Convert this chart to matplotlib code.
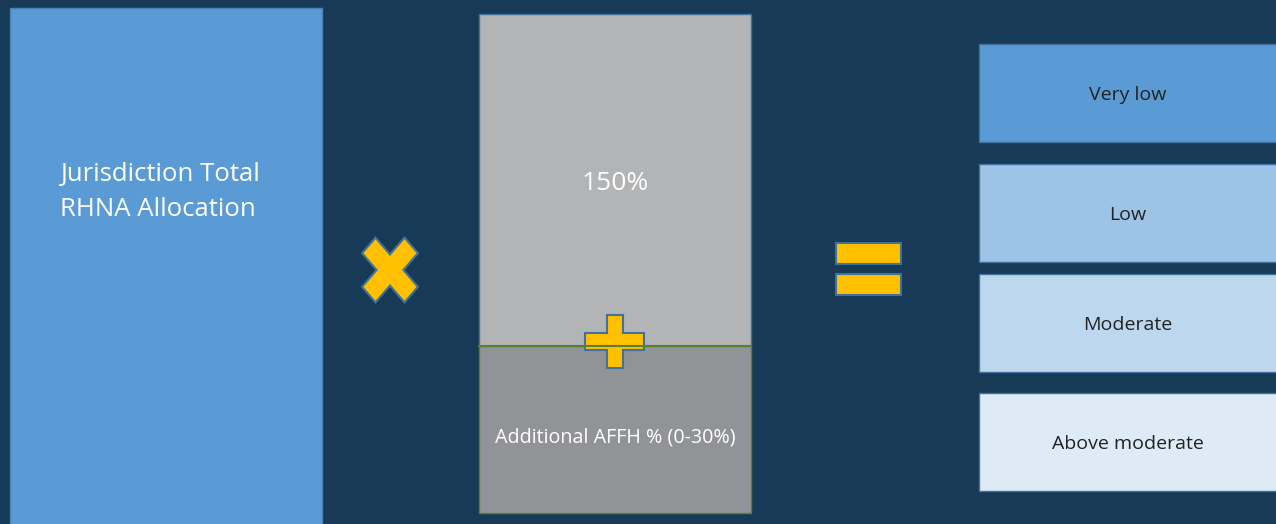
import numpy as np
import matplotlib.pyplot as plt
from matplotlib.patches import Rectangle, Polygon

# content of the diagram
left_label = "Jurisdiction Total\nRHNA Allocation"
mid_top_label = "150%"
mid_bottom_label = "Additional AFFH % (0-30%)"
income_labels = ["Very low", "Low", "Moderate", "Above moderate"]
income_colors = ["#5B9BD5", "#9DC3E6", "#BDD7EE", "#DEEBF7"]
income_tops = [44, 164, 274, 393]

bg = "#173B56"
gold = "#FFC000"
outline = "#41719C"

fig = plt.figure(figsize=(12.76, 5.24), dpi=100)
fig.patch.set_facecolor(bg)
ax = fig.add_axes([0, 0, 1, 1])
ax.set_xlim(0, 1276)
ax.set_ylim(524, 0)
ax.set_facecolor(bg)
ax.axis("off")

# left box
ax.add_patch(Rectangle((10, 8), 312, 530, facecolor="#5B9BD5", edgecolor="#4A80B4", lw=1))
ax.text(60, 192, left_label, color="white", fontsize=18.5, ha="left", va="center",
        family="Open Sans", linespacing=1.55)

# middle stacked box
ax.add_patch(Rectangle((479, 14), 272, 332, facecolor="#B3B4B6", edgecolor="#41719C", lw=1))
ax.add_patch(Rectangle((479, 346), 272, 167, facecolor="#929396", edgecolor="#548235", lw=1))
ax.plot([479, 751], [346, 346], color="#548235", lw=1.5)
ax.text(615, 184, mid_top_label, color="white", fontsize=19, ha="center", va="center",
        family="Open Sans")
ax.text(615, 437, mid_bottom_label, color="white", fontsize=14.2, ha="center", va="center",
        family="Open Sans")


def cross(cx, cy, L, w, angle=0.0, sy=1.0):
    pts = np.array([(w, L), (w, w), (L, w), (L, -w), (w, -w), (w, -L), (-w, -L),
                    (-w, -w), (-L, -w), (-L, w), (-w, w), (-w, L)], dtype=float)
    a = np.deg2rad(angle)
    rot = np.array([[np.cos(a), -np.sin(a)], [np.sin(a), np.cos(a)]])
    pts = pts @ rot.T
    pts[:, 1] *= sy
    pts[:, 0] += cx
    pts[:, 1] += cy
    return pts


# multiply sign
ax.add_patch(Polygon(cross(390, 270, 30, 9.5, 45, 1.16), closed=True,
                     facecolor=gold, edgecolor=outline, lw=1.5))

# plus sign (uneven arms)
plus = [(607, 315), (623, 315), (623, 333), (644, 333), (644, 350), (623, 350),
        (623, 368), (607, 368), (607, 350), (585, 350), (585, 333), (607, 333)]
ax.add_patch(Polygon(plus, closed=True, facecolor=gold, edgecolor=outline, lw=1.5))

# equals sign
for y0 in (243, 274):
    ax.add_patch(Rectangle((836, y0), 65, 21, facecolor=gold, edgecolor=outline, lw=1.5))

# income category boxes
for lab, col, top in zip(income_labels, income_colors, income_tops):
    ax.add_patch(Rectangle((979, top), 310, 98, facecolor=col, edgecolor="#41719C", lw=1))
    ax.text(1128, top + 51, lab, color="#222222", fontsize=14, ha="center", va="center",
            family="Open Sans")

fig.savefig("out.png", dpi=100, facecolor=bg)
